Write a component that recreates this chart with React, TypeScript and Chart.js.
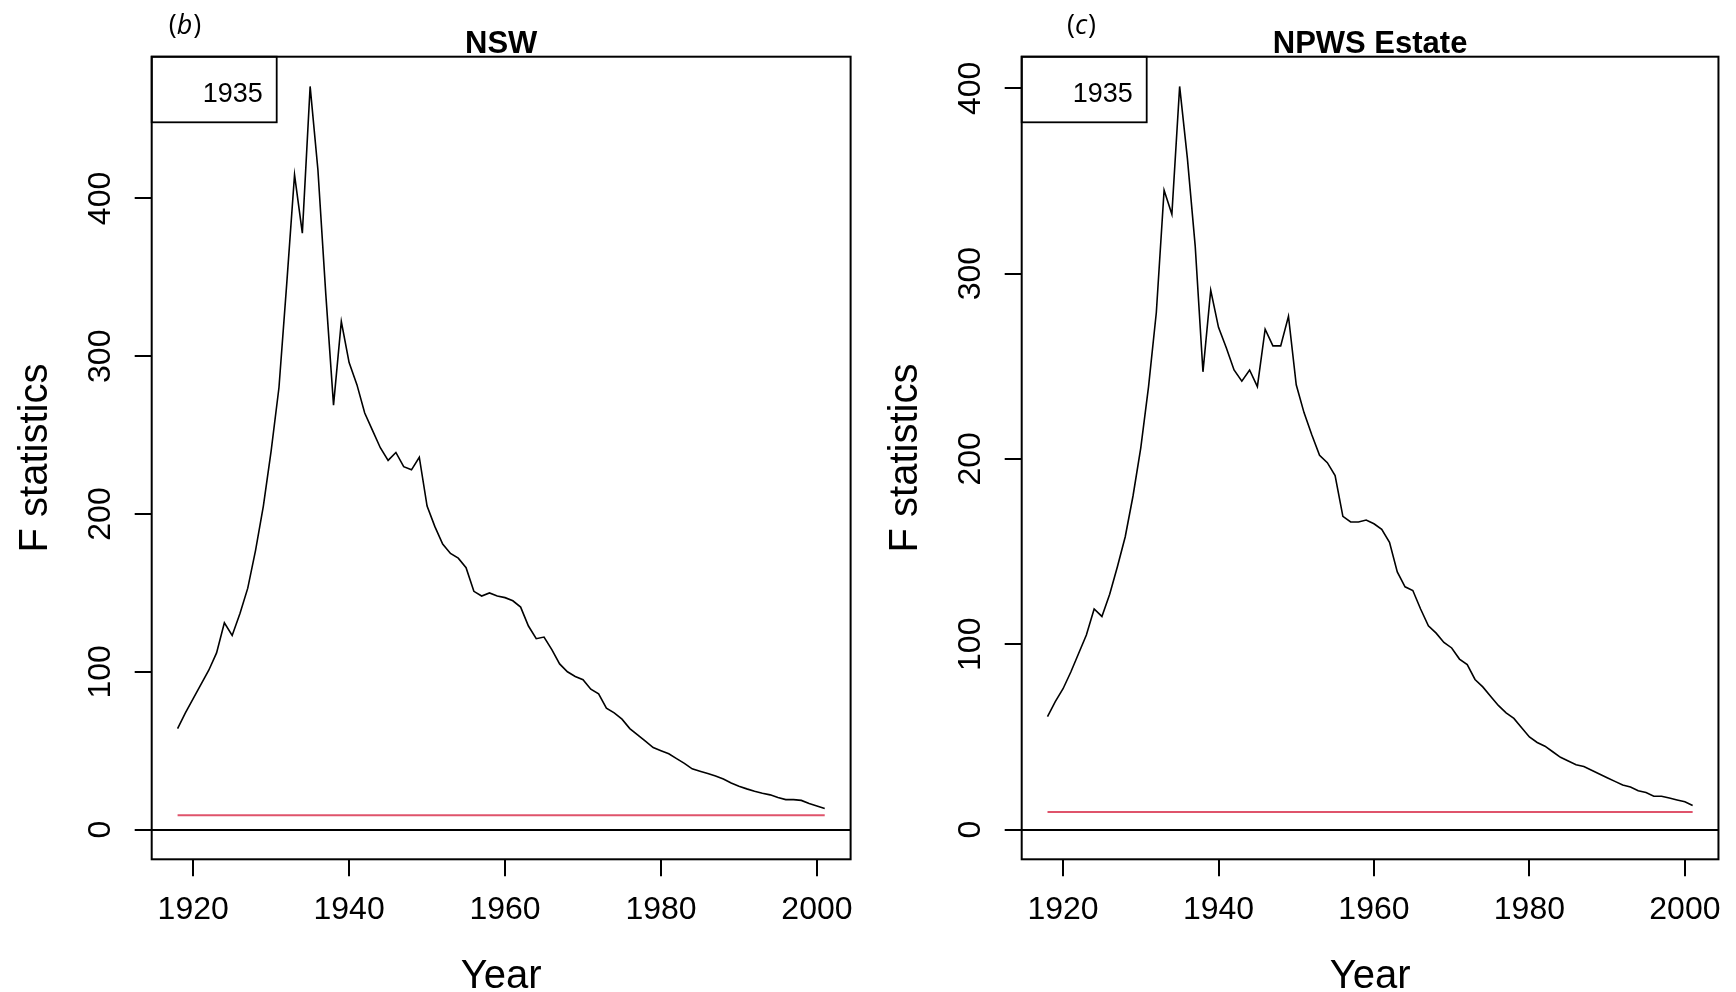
import React, { useEffect, useRef } from "react";
import { Chart, registerables } from "chart.js";

Chart.register(...registerables);

// ---- data ----
const years = [
  1918, 1919, 1920, 1921, 1922, 1923, 1924, 1925, 1926, 1927,
  1928, 1929, 1930, 1931, 1932, 1933, 1934, 1935, 1936, 1937,
  1938, 1939, 1940, 1941, 1942, 1943, 1944, 1945, 1946, 1947,
  1948, 1949, 1950, 1951, 1952, 1953, 1954, 1955, 1956, 1957,
  1958, 1959, 1960, 1961, 1962, 1963, 1964, 1965, 1966, 1967,
  1968, 1969, 1970, 1971, 1972, 1973, 1974, 1975, 1976, 1977,
  1978, 1979, 1980, 1981, 1982, 1983, 1984, 1985, 1986, 1987,
  1988, 1989, 1990, 1991, 1992, 1993, 1994, 1995, 1996, 1997,
  1998, 1999, 2000, 2001,
];

const nswF = [
  64, 74, 83, 92, 101, 112, 131, 123, 137, 153,
  177, 205, 240, 280, 346, 415, 378, 471, 418, 340,
  269, 322, 296, 282, 264, 253, 242, 234, 239, 230,
  228, 236, 205, 192, 181, 175, 172, 166, 151, 148,
  150, 148, 147, 145, 141, 129, 121, 122, 114, 105,
  100, 97, 95, 89, 86, 77, 74, 70, 64, 60,
  56, 52, 50, 48, 45, 42, 38.5, 37, 35.5, 34,
  32, 29.5, 27.5, 25.8, 24.3, 23, 22, 20.3, 19, 19,
  18.5, 16.5, 15, 13.4,
];

const npwsF = [
  61, 69, 76, 85, 95, 105, 119, 115, 127, 142,
  158, 180, 206, 239, 279, 345, 332, 401, 362, 315,
  247, 291, 271, 260, 248, 242, 248, 239, 270, 261,
  261, 277, 240, 225, 213, 202, 198, 191, 169, 166,
  166, 167, 165, 162, 155, 139, 131, 129, 119, 110,
  106, 101, 98, 92, 89, 81, 77, 72, 67, 63,
  60, 55, 50, 47, 45, 42, 39, 37, 35, 34,
  32, 30, 28, 26, 24, 23, 21, 20, 18, 18,
  17, 16, 15, 13,
];

const nswCritical = 9.0;
const npwsCritical = 9.5;

const xTicks = [1920, 1940, 1960, 1980, 2000];
const yTicks = [0, 100, 200, 300, 400];
const breakYearLabel = "1935";
const xTitle = "Year";
const yTitle = "F statistics";

// ---- layout / style ----
const W = 868;
const H = 992;
const PLOT_TOP = 56.7;
const X_AXIS_H = 132.7;
const SANS = '"Liberation Sans", Arial, Helvetica, sans-serif';
const TAG_FONT = '"Open Sans", "Noto Sans", sans-serif';

type Panel = {
  title: string;
  tag: string;
  values: number[];
  critical: number;
  canvasLeft: number;
  chartLeft: number;
  padRight: number;
  tagCenterX: number;
};

const panels: Panel[] = [
  { title: "NSW", tag: "b", values: nswF, critical: nswCritical, canvasLeft: 0, chartLeft: 151.7, padRight: 10, tagCenterX: 185 },
  { title: "NPWS Estate", tag: "c", values: npwsF, critical: npwsCritical, canvasLeft: 868, chartLeft: 153.7, padRight: 11, tagCenterX: 213.5 },
];

function makeFramePlugin(p: Panel) {
  return {
    id: "rframe",
    afterDraw(chart: any) {
      const { ctx, chartArea } = chart;
      const { left, top, right, bottom } = chartArea;
      ctx.save();
      // plot box
      ctx.strokeStyle = "#000";
      ctx.lineWidth = 2;
      ctx.strokeRect(left, top, right - left, bottom - top);
      // legend box (topleft)
      ctx.lineWidth = 1.8;
      ctx.strokeRect(left, top, 125, 65.6);
      ctx.fillStyle = "#000";
      ctx.font = `27px ${SANS}`;
      ctx.textAlign = "right";
      ctx.textBaseline = "alphabetic";
      ctx.fillText(breakYearLabel, left + 111, top + 45);
      // title
      ctx.font = `bold 31px ${SANS}`;
      ctx.textAlign = "center";
      ctx.fillText(p.title, (left + right) / 2, 53);
      // panel tag "(b)" with italic letter
      ctx.textAlign = "left";
      const normal = `27px ${TAG_FONT}`;
      const italic = `italic 27px ${TAG_FONT}`;
      ctx.font = normal;
      const wOpen = ctx.measureText("(").width;
      const wClose = ctx.measureText(")").width;
      ctx.font = italic;
      const wLetter = ctx.measureText(p.tag).width;
      const total = wOpen + wLetter + wClose + 1;
      let x = p.tagCenterX - total / 2;
      const by = 34;
      ctx.font = normal;
      ctx.fillText("(", x, by);
      x += wOpen;
      ctx.font = italic;
      ctx.fillText(p.tag, x, by);
      x += wLetter + 1;
      ctx.font = normal;
      ctx.fillText(")", x, by);
      ctx.restore();
    },
  };
}

function PanelChart({ p }: { p: Panel }) {
  const ref = useRef<HTMLCanvasElement | null>(null);
  useEffect(() => {
    if (!ref.current) return;
    const maxV = Math.max(...p.values);
    const yMin = -0.04 * maxV;
    const yMax = maxV * 1.04;
    const span = years[years.length - 1] - years[0];
    const xMin = years[0] - 0.04 * span;
    const xMax = years[years.length - 1] + 0.04 * span;

    const chart = new Chart(ref.current, {
      type: "line",
      data: {
        datasets: [
          {
            data: years.map((yr, i) => ({ x: yr, y: p.values[i] })),
            borderColor: "#000",
            borderWidth: 1.6,
            pointRadius: 0,
            tension: 0,
            fill: false,
          },
          {
            data: [
              { x: years[0], y: p.critical },
              { x: years[years.length - 1], y: p.critical },
            ],
            borderColor: "#DF536B",
            borderWidth: 2,
            pointRadius: 0,
            fill: false,
          },
        ],
      },
      options: {
        animation: false,
        responsive: false,
        events: [],
        layout: { padding: { top: PLOT_TOP, right: p.padRight, left: 0, bottom: 0 } },
        plugins: {
          legend: { display: false },
          tooltip: { enabled: false },
          title: { display: false },
        },
        scales: {
          x: {
            type: "linear",
            min: xMin,
            max: xMax,
            afterBuildTicks: (s: any) => {
              s.ticks = xTicks.map((v) => ({ value: v }));
            },
            afterFit: (s: any) => {
              s.height = X_AXIS_H;
            },
            border: { display: false },
            grid: {
              drawOnChartArea: false,
              drawTicks: true,
              tickLength: 17,
              tickColor: "#000",
              tickWidth: 2,
              lineWidth: 2,
            },
            ticks: {
              autoSkip: false,
              maxRotation: 0,
              minRotation: 0,
              color: "#000",
              padding: 15,
              font: { family: SANS, size: 32 },
              callback: (v: any) => String(v),
            },
            title: {
              display: true,
              text: xTitle,
              color: "#000",
              font: { family: SANS, size: 40, lineHeight: 0.75 },
              padding: { top: 0, bottom: 0 },
            },
          },
          y: {
            type: "linear",
            min: yMin,
            max: yMax,
            afterBuildTicks: (s: any) => {
              s.ticks = yTicks.map((v) => ({ value: v }));
            },
            afterFit: (s: any) => {
              s.width = p.chartLeft;
            },
            border: { display: false },
            grid: {
              drawOnChartArea: true,
              drawTicks: true,
              tickLength: 17,
              tickColor: "#000",
              tickWidth: 2,
              lineWidth: 2,
              color: (ctx: any) =>
                ctx.tick && ctx.tick.value === 0 ? "#000" : "rgba(0,0,0,0)",
            },
            ticks: {
              autoSkip: false,
              minRotation: 90,
              maxRotation: 90,
              crossAlign: "center",
              color: "#000",
              padding: 7,
              font: { family: SANS, size: 32 },
              callback: (v: any) => String(v),
            },
            title: {
              display: true,
              text: yTitle,
              color: "#000",
              font: { family: SANS, size: 40, lineHeight: 1 },
              padding: { top: p.chartLeft - 136, bottom: 0 },
            },
          },
        },
      },
      plugins: [makeFramePlugin(p)],
    } as any);
    return () => chart.destroy();
  }, [p]);

  return (
    <canvas
      ref={ref}
      width={W}
      height={H}
      style={{ position: "absolute", left: p.canvasLeft, top: 0, width: W, height: H }}
    />
  );
}

export default function App() {
  return (
    <div style={{ position: "absolute", left: 0, top: 0, width: 1736, height: 992, background: "#fff", overflow: "hidden" }}>
      {panels.map((p) => (
        <PanelChart key={p.title} p={p} />
      ))}
    </div>
  );
}
